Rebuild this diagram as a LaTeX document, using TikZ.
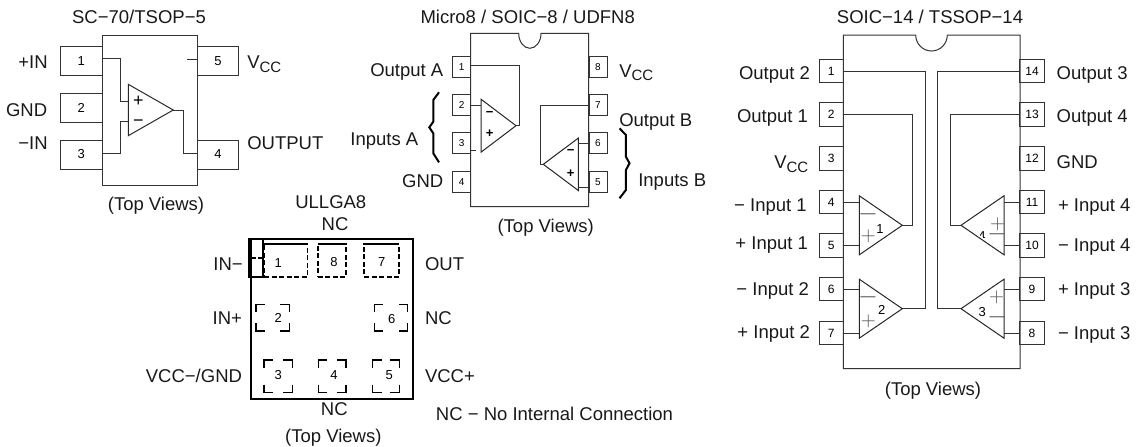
\documentclass[tikz,border=0pt]{standalone}
\usepackage{fontspec}
\setmainfont{Liberation Sans}
\usetikzlibrary{calc,shapes.geometric}
\newcommand{\vcc}{V\raisebox{-3.5pt}{\fontsize{15}{16}\selectfont CC}}
\newcommand{\padcorners}[1]{
	\draw[padline] (#1.north west) ++(0,8) -- (#1.north west) -- ++(9,0);
	\draw[padline] (#1.north east) ++(0,8) -- (#1.north east) -- ++(-9,0);
	\draw[padline] (#1.south west) ++(0,-8) -- (#1.south west) -- ++(9,0);
	\draw[padline] (#1.south east) ++(0,-8) -- (#1.south east) -- ++(-9,0);
}
\begin{document}
\begin{tikzpicture}[x=1pt,y=-1pt,
	every node/.style={inner sep=0pt,outer sep=0pt},
	lbl/.style={font=\fontsize{18.5}{20}\selectfont,text height=13.3pt,text depth=0pt,text=black!90},
	wire/.style={black!80,line width=1pt},
	sopin/.style={draw=black!80,line width=1pt,minimum width=41.3pt,minimum height=29pt,font=\fontsize{13}{14}\selectfont},
	mpin/.style={draw=black!80,line width=1pt,minimum width=18pt,minimum height=20.7pt,font=\fontsize{10}{11}\selectfont},
	spin/.style={draw=black!80,line width=1pt,minimum width=24.3pt,minimum height=23.5pt,font=\fontsize{12}{13}\selectfont},
	opamp/.style 2 args={draw=black!85,line width=1pt,isosceles triangle,isosceles triangle stretches,minimum width=#2,minimum height=#1,anchor=apex},
	ampnum/.style={font=\fontsize{13}{14}\selectfont},
	plusbig/.style={font=\fontsize{20}{22}\selectfont,text=black!70,text height=11.7pt,text depth=1.7pt},
	minusbig/.style={font=\fontsize{26}{28}\selectfont,text=black!70,text height=8pt,text depth=-5pt},
	padnum/.style={font=\fontsize{13}{14}\selectfont},
	padline/.style={black,line width=1.2pt},
	toppad/.style={draw=black,line width=1.7pt,dash pattern=on 5pt off 2.5pt},
	bracemark/.style={black,line width=2pt},
	]
	\useasboundingbox (0,0) rectangle (1138,447);

	\node[lbl] (sotitle) at (139,17) {SC−70/TSOP−5};
	\node[draw=black!80,line width=1pt,minimum width=95.3pt,minimum height=150pt] (sobody) at (149.65,110) {};
	\node[sopin] (so1) at (81.35,61.2) {1};
	\node[sopin] (so2) at (81.35,107.8) {2};
	\node[sopin] (so3) at (81.35,154.5) {3};
	\node[sopin] (so4) at (218,154.5) {4};
	\node[sopin] (so5) at (218,61.2) {5};
	\node[opamp={45pt}{51.4pt}] (soamp) at (173.3,110) {};
	\node[font=\fontsize{18}{19}\selectfont] (soplus) at (138.3,101.7) {+};
	\node[font=\fontsize{18}{19}\selectfont] (sominus) at (138.3,123.3) {−};
	\draw[wire] (so1.8) -- ++(18,0) |- ($(soamp.lower side)+(0,-8.3)$);
	\draw[wire] (so3.3) -- ++(18,0) |- ($(soamp.lower side)+(0,11.7)$);
	\draw[wire] (soamp.apex) -- ++(9.7,0) |- (so4.177);
	\draw[wire] (so5.174) -- ++(-10,0);
	\node[lbl,anchor=east] (soin1) at (47.7,62) {+IN};
	\node[lbl,anchor=east] (sognd) at (47.2,110) {GND};
	\node[lbl,anchor=east] (soin3) at (47.7,143) {−IN};
	\node[lbl,anchor=west] (sovcc) at (247.3,62) {\vcc};
	\node[lbl,anchor=west] (soout) at (247.3,143) {OUTPUT};
	\node[lbl] (soview) at (156,204) {(Top Views)};

	\node[lbl] (mtitle) at (527.7,17.3) {Micro8 / SOIC−8 / UDFN8};
	\draw[wire] (470.7,33.3) -- (518.7,33.3) arc[start angle=180,end angle=0,x radius=11.15,y radius=15] -- (588.7,33.3) -- (588.7,206.7) -- (470.7,206.7) -- cycle;
	\node[mpin] (m1) at (461.7,67.2) {1};
	\node[mpin] (m2) at (461.7,105.3) {2};
	\node[mpin] (m3) at (461.7,143) {3};
	\node[mpin] (m4) at (461.7,182) {4};
	\node[mpin] (m5) at (598,182) {5};
	\node[mpin] (m6) at (598,143) {6};
	\node[mpin] (m7) at (598,105.3) {7};
	\node[mpin] (m8) at (598,67.2) {8};
	\node[opamp={35pt}{53pt}] (mampa) at (516,125.7) {};
	\node[opamp={35pt}{52.4pt},shape border rotate=180] (mampb) at (543.3,164.3) {};
	\node[font=\fontsize{13}{14}\selectfont\bfseries] (mam) at (489.7,114.3) {−};
	\node[font=\fontsize{13}{14}\selectfont\bfseries] (map) at (489.7,134) {+};
	\node[font=\fontsize{13}{14}\selectfont\bfseries] (mbm) at (570.7,151.7) {−};
	\node[font=\fontsize{13}{14}\selectfont\bfseries] (mbp) at (570.7,174) {+};
	\draw[wire] (m1.10) -- ++(48.3,0) |- (mampa.apex);
	\draw[wire] (m2.east) -- (m2.east -| mampa.lower side);
	\draw[wire] (m3.-38) -- ++(5.3,0);
	\draw[wire] (m7.west) -- ++(-48.4,0) |- (mampb.apex);
	\draw[wire] (m6.west) -- (m6.west -| mampb.lower side);
	\draw[wire] (m5.212) -- (m5.212 -| mampb.lower side);
	\node[lbl,anchor=east] (mout1) at (443.3,70) {Output A};
	\node[lbl,anchor=east] (minsa) at (418.3,139) {Inputs A};
	\node[lbl,anchor=east] (mgnd) at (443.3,180.7) {GND};
	\node[lbl,anchor=west] (mvcc) at (619.3,70.7) {\vcc};
	\node[lbl,anchor=west] (moutb) at (619.3,120) {Output B};
	\node[lbl,anchor=west] (minsb) at (638.3,180) {Inputs B};
	\node[lbl] (mview) at (545.7,225.7) {(Top Views)};
	\draw[bracemark] (439,92.3) -- (433.3,100) -- (433.3,121.7) -- (429.3,127.3) -- (433.3,133.3) -- (433.3,153.3) -- (439,162.3);
	\draw[bracemark] (619.5,128.3) -- (625.9,135) -- (625.9,156.7) -- (629.5,163.3) -- (625.9,170) -- (625.9,190) -- (619.5,198.3);

	\node[lbl] (stitle) at (930,17.3) {SOIC−14 / TSSOP−14};
	\draw[wire] (843.3,35) -- (915.7,35) arc[start angle=180,end angle=0,x radius=15.8,y radius=16] -- (1020,35) -- (1020,368.7) -- (843.3,368.7) -- cycle;
	\node[spin] (s1) at (831.15,71) {1};
	\node[spin] (s2) at (831.15,114.3) {2};
	\node[spin] (s3) at (831.15,158.3) {3};
	\node[spin] (s4) at (831.15,202) {4};
	\node[spin] (s5) at (831.15,245.3) {5};
	\node[spin] (s6) at (831.15,289.2) {6};
	\node[spin] (s7) at (831.15,333) {7};
	\node[spin] (s8) at (1032,333) {8};
	\node[spin] (s9) at (1032,289.2) {9};
	\node[spin] (s10) at (1032,245.3) {10};
	\node[spin] (s11) at (1032,202) {11};
	\node[spin] (s12) at (1032,158.3) {12};
	\node[spin] (s13) at (1032,114.3) {13};
	\node[spin] (s14) at (1032,71) {14};
	\node[opamp={43pt}{59pt}] (samp1) at (902.3,225.3) {};
	\node[opamp={43pt}{59pt}] (samp2) at (902.3,308.7) {};
	\node[opamp={43pt}{59pt},shape border rotate=180] (samp3) at (961,308.7) {};
	\node[opamp={43pt}{59pt},shape border rotate=180] (samp4) at (961,225.3) {};
	\draw[wire] (s1.east) -- ++(82.4,0) |- (samp2.apex);
	\draw[wire] (s2.east) -- ++(68.7,0) |- (samp1.apex);
	\draw[wire] (s14.west) -- ++(-82.3,0) |- (samp3.apex);
	\draw[wire] (s13.west) -- ++(-69,0) |- (samp4.apex);
	\draw[wire] (s4.east) -- (s4.east -| samp1.lower side);
	\draw[wire] (s5.east) -- (s5.east -| samp1.lower side);
	\draw[wire] (s6.east) -- (s6.east -| samp2.lower side);
	\draw[wire] (s7.east) -- (s7.east -| samp2.lower side);
	\draw[wire] (s8.west) -- (s8.west -| samp3.lower side);
	\draw[wire] (s9.west) -- (s9.west -| samp3.lower side);
	\draw[wire] (s10.west) -- (s10.west -| samp4.lower side);
	\draw[wire] (s11.west) -- (s11.west -| samp4.lower side);
	\node[minusbig] (s1m) at (868,216) {$-$};
	\node[plusbig] (s1p) at (868.3,236.7) {$+$};
	\node[ampnum] (s1n) at (880,228.7) {1};
	\node[minusbig] (s2m) at (868,299) {$-$};
	\node[plusbig] (s2p) at (868.3,321) {$+$};
	\node[ampnum] (s2n) at (881.7,310) {2};
	\node[plusbig] (s3p) at (996.7,297.3) {$+$};
	\node[minusbig] (s3m) at (997,319) {$-$};
	\node[ampnum] (s3n) at (982.3,311.7) {3};
	\node[plusbig] (s4p) at (997.7,224.3) {$+$};
	\node[minusbig] (s4m) at (997,236.3) {$-$};
	\begin{scope}
		\clip ($(samp4.apex)+(0,-3)$) -- ($(samp4.left corner)+(0,-3)$) -- ($(samp4.right corner)+(0,-3)$) -- cycle;
		\node[ampnum] (s4n) at (982,236) {4};
	\end{scope}
	\node[lbl,anchor=east] (sl1) at (810,72.7) {Output 2};
	\node[lbl,anchor=east] (sl2) at (808,115.7) {Output 1};
	\node[lbl,anchor=east] (sl3) at (808.3,162) {\vcc};
	\node[lbl,anchor=east] (sl4) at (806.7,205) {− Input 1};
	\node[lbl,anchor=east] (sl5) at (808,243.3) {+ Input 1};
	\node[lbl,anchor=east] (sl6) at (809,289) {− Input 2};
	\node[lbl,anchor=east] (sl7) at (810,332.3) {+ Input 2};
	\node[lbl,anchor=west] (sl14) at (1056.7,72.7) {Output 3};
	\node[lbl,anchor=west] (sl13) at (1056.7,115.7) {Output 4};
	\node[lbl,anchor=west] (sl12) at (1056.7,162) {GND};
	\node[lbl,anchor=west] (sl11) at (1058,205) {+ Input 4};
	\node[lbl,anchor=west] (sl10) at (1058,245) {− Input 4};
	\node[lbl,anchor=west] (sl9) at (1058,289) {+ Input 3};
	\node[lbl,anchor=west] (sl8) at (1058,333.3) {− Input 3};
	\node[lbl] (sview) at (933,389.3) {(Top Views)};

	\node[lbl] (utitle) at (330.8,202) {ULLGA8};
	\node[lbl] (unctop) at (335,224.3) {NC};
	\node[draw=black,line width=1.7pt,minimum width=162.6pt,minimum height=160pt] (ubody) at (332,319) {};
	\node[draw=black,line width=1.7pt,minimum width=14.6pt,minimum height=37.7pt] (uinbox) at (256,257.85) {};
	\draw[toppad] (uinbox.east) -- ++(-11,0);
	\node[toppad,minimum width=43.3pt,minimum height=32.4pt] (upad1) at (285.7,260.5) {};
	\node[toppad,minimum width=28pt,minimum height=32.4pt] (upad8) at (331.7,260.5) {};
	\node[toppad,minimum width=35pt,minimum height=32.4pt] (upad7) at (381.8,260.5) {};
	\draw[black,line width=1.7pt] (upad1.north west) -- (upad1.north east);
	\draw[black,line width=1.7pt] (upad8.north west) -- (upad8.north east);
	\draw[black,line width=1.7pt] (upad7.north west) -- (upad7.north east);
	\node[minimum width=33.3pt,minimum height=26.7pt] (upad2) at (272.7,317.7) {};
	\node[minimum width=33.3pt,minimum height=26.7pt] (upad6) at (391,317.7) {};
	\node[minimum width=28.3pt,minimum height=32.7pt] (upad3) at (278.2,376.3) {};
	\node[minimum width=27.7pt,minimum height=32.7pt] (upad4) at (332.2,376.3) {};
	\node[minimum width=26.6pt,minimum height=32.7pt] (upad5) at (386,376.3) {};
	\padcorners{upad2}
	\padcorners{upad6}
	\padcorners{upad3}
	\padcorners{upad4}
	\padcorners{upad5}
	\node[padnum] (un1) at (278.3,263.3) {1};
	\node[padnum] (un8) at (334,262) {8};
	\node[padnum] (un7) at (381.7,262) {7};
	\node[padnum] (un2) at (278.3,318.3) {2};
	\node[padnum] (un6) at (391.7,319) {6};
	\node[padnum] (un3) at (278.3,375) {3};
	\node[padnum] (un4) at (334,375) {4};
	\node[padnum] (un5) at (389.3,375) {5};
	\node[lbl,anchor=east] (uinm) at (242.7,264.3) {IN−};
	\node[lbl,anchor=east] (uinp) at (242,318.3) {IN+};
	\node[lbl,anchor=east] (uvcm) at (242,376) {VCC−/GND};
	\node[lbl,anchor=west] (uout) at (425,264) {OUT};
	\node[lbl,anchor=west] (unc) at (425,318) {NC};
	\node[lbl,anchor=west] (uvcp) at (425,376) {VCC+};
	\node[lbl] (uncbot) at (334.3,409.3) {NC};
	\node[lbl] (uview) at (333.3,435.7) {(Top Views)};
	\node[lbl] (unote) at (554.5,413.5) {NC − No Internal Connection};
\end{tikzpicture}
\end{document}
